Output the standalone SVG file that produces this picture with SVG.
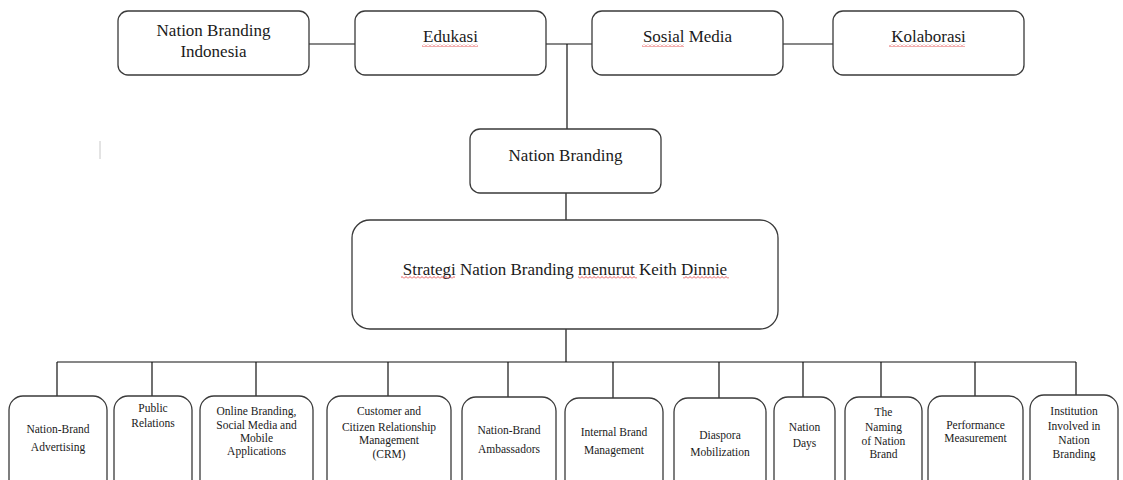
<svg xmlns="http://www.w3.org/2000/svg" width="1123" height="480" viewBox="0 0 1123 480">
<defs>
<pattern id="squig" width="4" height="3" patternUnits="userSpaceOnUse">
<path d="M0,2.5 L2,0.5 L4,2.5" fill="none" stroke="#e03030" stroke-width="0.8"/>
</pattern>
</defs>
<style>
.box{fill:#fff;stroke:#3a3a3a;stroke-width:1.3}
.t{font-family:'Liberation Serif','Tinos','DejaVu Serif',serif;font-size:17px;fill:#1a1a1a;text-anchor:middle}
.s{font-family:'Liberation Serif','Tinos','DejaVu Serif',serif;font-size:11.5px;fill:#1a1a1a;text-anchor:middle}
.ln{stroke:#111;stroke-width:1.2;fill:none}
.sq{fill:url(#squig)}
</style>
<rect width="1123" height="480" fill="#fff"/>
<g id="connectors">
<line class="ln" x1="309" y1="44" x2="355" y2="44"/>
<line class="ln" x1="546" y1="44" x2="592" y2="44"/>
<line class="ln" x1="783" y1="44" x2="833" y2="44"/>
<line class="ln" x1="567" y1="44" x2="567" y2="129"/>
<line class="ln" x1="566" y1="193" x2="566" y2="220"/>
<line class="ln" x1="566" y1="329" x2="566" y2="362"/>
<line class="ln" x1="57" y1="362" x2="1076" y2="362"/>
<line class="ln" x1="57" y1="362" x2="57" y2="396"/>
<line class="ln" x1="152" y1="362" x2="152" y2="396"/>
<line class="ln" x1="256" y1="362" x2="256" y2="396"/>
<line class="ln" x1="388" y1="362" x2="388" y2="396"/>
<line class="ln" x1="508" y1="362" x2="508" y2="397"/>
<line class="ln" x1="613" y1="362" x2="613" y2="398"/>
<line class="ln" x1="719" y1="362" x2="719" y2="398"/>
<line class="ln" x1="803" y1="362" x2="803" y2="397"/>
<line class="ln" x1="881" y1="362" x2="881" y2="397"/>
<line class="ln" x1="975" y1="362" x2="975" y2="396"/>
<line class="ln" x1="1076" y1="362" x2="1076" y2="395"/>
</g>
<g id="nbi">
<rect class="box" x="118" y="11" width="191" height="64" rx="10"/>
<text class="t" x="213.5" y="36">Nation Branding</text>
<text class="t" x="213.5" y="57">Indonesia</text>
</g>
<g id="edukasi">
<rect class="box" x="355" y="11" width="191" height="64" rx="10"/>
<text class="t" x="450.5" y="42">Edukasi</text>
<rect class="sq" x="422" y="44" width="56" height="3"/>
</g>
<g id="sosmed">
<rect class="box" x="592" y="11" width="191" height="64" rx="10"/>
<text class="t" x="687.5" y="42">Sosial Media</text>
<rect class="sq" x="642" y="44" width="42" height="3"/>
</g>
<g id="kolaborasi">
<rect class="box" x="833" y="11" width="191" height="64" rx="10"/>
<text class="t" x="928.5" y="42">Kolaborasi</text>
<rect class="sq" x="889" y="44" width="76" height="3"/>
</g>
<g id="nb">
<rect class="box" x="470" y="129" width="191" height="64" rx="10"/>
<text class="t" x="565.5" y="161">Nation Branding</text>
</g>
<g id="strategi">
<rect class="box" x="352" y="220" width="426" height="109" rx="18"/>
<text class="t" x="565" y="275">Strategi Nation Branding menurut Keith Dinnie</text>
<rect class="sq" x="401" y="276" width="54" height="3"/>
<rect class="sq" x="578" y="276" width="59" height="3"/>
<rect class="sq" x="683" y="276" width="46" height="3"/>
</g>
<g id="advertising">
<rect class="box" x="9" y="396" width="98" height="100" rx="14"/>
<text class="s" x="58" y="433">Nation-Brand</text>
<text class="s" x="58" y="451">Advertising</text>
</g>
<g id="pr">
<rect class="box" x="114" y="396" width="78" height="100" rx="14"/>
<text class="s" x="153" y="412">Public</text>
<text class="s" x="153" y="427">Relations</text>
</g>
<g id="online">
<rect class="box" x="200" y="396" width="113" height="100" rx="14"/>
<text class="s" x="256.5" y="415">Online Branding,</text>
<text class="s" x="256.5" y="429">Social Media and</text>
<text class="s" x="256.5" y="442">Mobile</text>
<text class="s" x="256.5" y="455">Applications</text>
</g>
<g id="crm">
<rect class="box" x="327" y="396" width="124" height="100" rx="14"/>
<text class="s" x="389" y="415">Customer and</text>
<text class="s" x="389" y="431">Citizen Relationship</text>
<text class="s" x="389" y="444">Management</text>
<text class="s" x="389" y="458">(CRM)</text>
</g>
<g id="ambassadors">
<rect class="box" x="462" y="397" width="94" height="100" rx="14"/>
<text class="s" x="509" y="434">Nation-Brand</text>
<text class="s" x="509" y="453">Ambassadors</text>
</g>
<g id="internal">
<rect class="box" x="565" y="398" width="98" height="100" rx="14"/>
<text class="s" x="614" y="436">Internal Brand</text>
<text class="s" x="614" y="454">Management</text>
</g>
<g id="diaspora">
<rect class="box" x="674" y="398" width="92" height="100" rx="14"/>
<text class="s" x="720" y="439">Diaspora</text>
<text class="s" x="720" y="456">Mobilization</text>
</g>
<g id="days">
<rect class="box" x="774" y="397" width="61" height="100" rx="14"/>
<text class="s" x="804.5" y="431">Nation</text>
<text class="s" x="804.5" y="447">Days</text>
</g>
<g id="naming">
<rect class="box" x="845" y="397" width="77" height="100" rx="14"/>
<text class="s" x="883.5" y="416">The</text>
<text class="s" x="883.5" y="431">Naming</text>
<text class="s" x="883.5" y="445">of Nation</text>
<text class="s" x="883.5" y="458">Brand</text>
</g>
<g id="performance">
<rect class="box" x="928" y="396" width="95" height="100" rx="14"/>
<text class="s" x="975.5" y="429">Performance</text>
<text class="s" x="975.5" y="442">Measurement</text>
</g>
<g id="institution">
<rect class="box" x="1030" y="395" width="88" height="100" rx="14"/>
<text class="s" x="1074" y="415">Institution</text>
<text class="s" x="1074" y="430">Involved in</text>
<text class="s" x="1074" y="444">Nation</text>
<text class="s" x="1074" y="458">Branding</text>
</g>
<line x1="100" y1="141" x2="100" y2="159" stroke="#c8c8c8" stroke-width="1"/>
</svg>
